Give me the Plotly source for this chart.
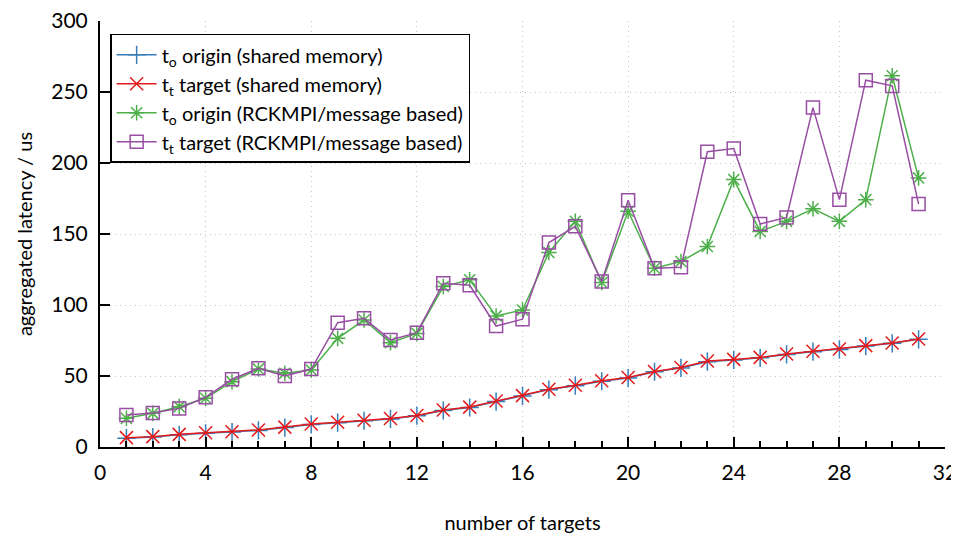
import plotly.graph_objects as go

targets = list(range(1, 32))

origin_shm = [6.2, 7.0, 8.6, 9.6, 10.5, 11.7, 13.7, 15.9, 17.1, 18.5, 19.8, 22.0, 25.7, 27.8, 32.0, 35.9, 40.4, 43.2, 46.3, 48.6, 53.0, 55.7, 60.1, 61.3, 62.8, 65.2, 67.1, 68.7, 71.1, 73.0, 75.8]
target_shm = [6.6, 7.3, 8.9, 10.0, 10.8, 12.0, 14.0, 16.2, 17.4, 18.8, 20.1, 22.2, 26.0, 28.1, 32.4, 36.2, 40.7, 43.5, 46.6, 48.9, 53.2, 56.0, 60.5, 61.7, 63.1, 65.5, 67.4, 69.0, 71.4, 73.3, 76.1]
origin_mpi = [20.2, 23.7, 28.4, 34.3, 46.0, 55.0, 51.9, 54.2, 76.5, 89.4, 73.5, 80.0, 113.0, 117.7, 92.3, 96.5, 137.0, 158.9, 115.8, 166.0, 125.9, 130.6, 141.2, 188.3, 151.8, 158.9, 167.8, 158.9, 174.2, 261.4, 189.5]
target_mpi = [22.5, 23.9, 27.2, 35.0, 47.7, 55.4, 50.0, 54.9, 87.5, 90.6, 75.4, 80.5, 115.3, 113.9, 85.2, 90.0, 144.0, 155.4, 116.5, 173.7, 125.9, 126.6, 207.9, 210.2, 157.0, 161.7, 239.0, 174.2, 258.3, 254.3, 171.1]

names = [
    "t<sub>o</sub> origin (shared memory)",
    "t<sub>t</sub> target (shared memory)",
    "t<sub>o</sub> origin (RCKMPI/message based)",
    "t<sub>t</sub> target (RCKMPI/message based)",
]
colors = ["#377eb8", "#e41a1c", "#4daf4a", "#984ea3"]
symbols = ["cross-thin", "x-thin", "asterisk", "square-open"]
sizes = [13, 13, 13, 13]
series = [origin_shm, target_shm, origin_mpi, target_mpi]

FONT = "Lato, sans-serif"

fig = go.Figure()
for name, col, sym, sz, vals in zip(names, colors, symbols, sizes, series):
    fig.add_trace(go.Scatter(
        x=targets, y=vals, name=name, mode="lines+markers",
        line=dict(color=col, width=1.5),
        marker=dict(symbol=sym, size=sz, color=col,
                    line=dict(color=col, width=1.5)),
    ))

GRID = "#c4c4c4"

fig.update_layout(
    width=951, height=532,
    margin=dict(l=92, r=14, t=13, b=93, autoexpand=False),
    paper_bgcolor="white", plot_bgcolor="white",
    font=dict(family=FONT, size=21, color="black"),
    showlegend=True,
    legend=dict(
        x=0.012, y=0.97, xanchor="left", yanchor="top",
        bordercolor="black", borderwidth=1.5, bgcolor="white",
        font=dict(size=20), tracegroupgap=0, itemwidth=40,
    ),
    xaxis=dict(
        range=[0, 32], tickmode="linear", tick0=0, dtick=4,
        showline=True, linecolor="black", linewidth=2,
        ticks="inside", ticklen=10, tickwidth=2, tickcolor="black",
        minor=dict(dtick=1, ticks="inside", ticklen=6, tickwidth=2, tickcolor="black", showgrid=False),
        showgrid=True, gridcolor=GRID, griddash="1px,4px", gridwidth=1,
        zeroline=False, ticklabelstandoff=6, automargin=False,
        ticklabeloverflow="allow",
        title=dict(text="number of targets", standoff=33, font=dict(size=20)),
    ),
    yaxis=dict(
        range=[0, 300], tickmode="linear", tick0=0, dtick=50,
        showline=True, linecolor="black", linewidth=2,
        ticks="inside", ticklen=10, tickwidth=2, tickcolor="black",
        showgrid=True, gridcolor=GRID, griddash="1px,4px", gridwidth=1,
        zeroline=False, ticklabelstandoff=6, automargin=False,
        ticklabeloverflow="allow",
        title=dict(text="aggregated latency / us", standoff=13, font=dict(size=20)),
    ),
)

fig.write_html("out.html")
